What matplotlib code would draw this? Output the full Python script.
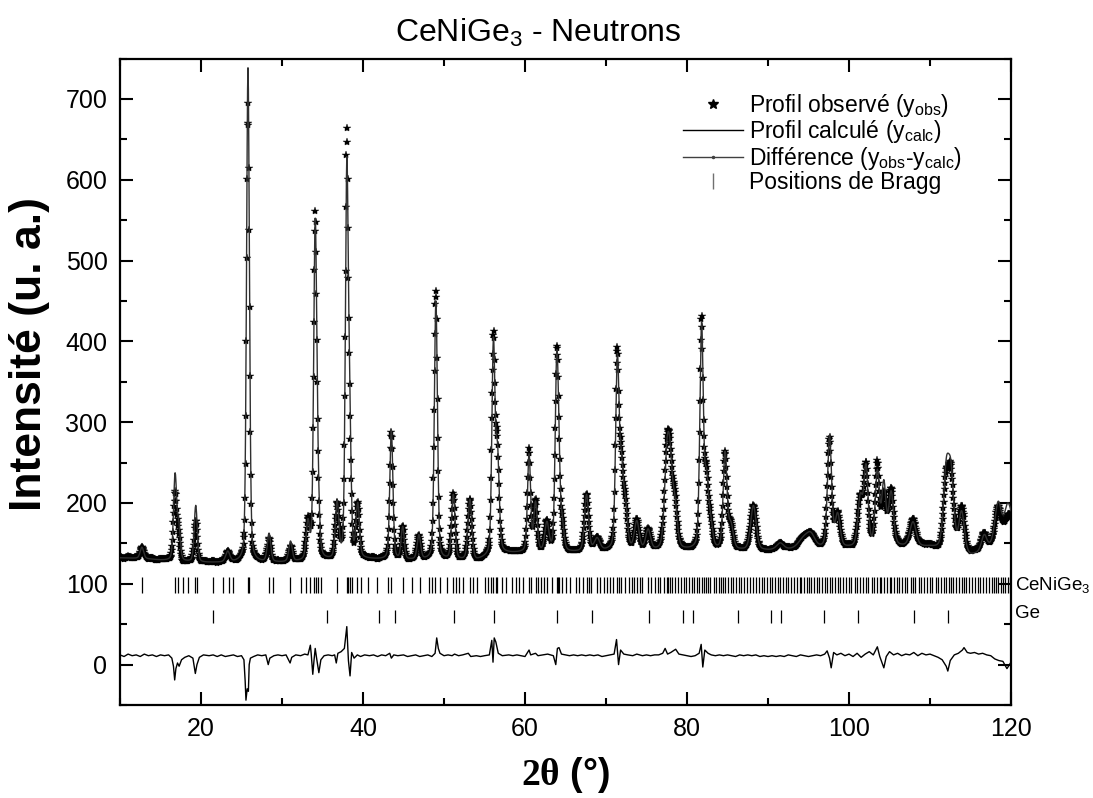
import numpy as np
import matplotlib
matplotlib.use('Agg')
import matplotlib.pyplot as plt
from matplotlib.lines import Line2D

plt.rcParams['font.family'] = ['Liberation Sans', 'DejaVu Sans']
plt.rcParams['mathtext.fontset'] = 'custom'
plt.rcParams['mathtext.rm'] = 'Liberation Sans'
plt.rcParams['mathtext.it'] = 'Liberation Sans:italic'
plt.rcParams['mathtext.bf'] = 'Liberation Serif:bold'
plt.rcParams['mathtext.default'] = 'regular'

# ---------------- data ----------------
two_theta_min, two_theta_max, two_theta_step = 10.0, 120.0, 0.05

# background of the calculated profile (2theta, intensity)
bg_x = [10, 13, 15, 18, 20, 22, 25, 28, 30, 33, 36, 40, 45, 50, 54, 57, 60, 65, 70, 75, 80, 85, 90, 95, 100, 105, 110, 115, 117, 120]
bg_y = [132, 131, 129, 127, 126, 126, 126, 126, 126, 127, 128, 130, 129, 129, 128, 137, 138, 138, 140, 140, 141, 141, 141, 143, 144, 146, 145, 134, 140, 172]

# reflections of the calculated profile: position, height above background, FWHM
peak_pos = [12.7, 16.8, 17.25, 19.35, 23.3, 25.8, 28.4, 31.05, 33.2, 34.1, 34.45, 36.8, 38.0, 38.35, 39.35,
            43.5, 44.9, 46.9, 49.0, 51.15, 53.2, 56.1, 56.6, 60.5, 61.3, 62.7, 63.9, 64.15, 64.6, 67.6, 68.9,
            71.4, 71.9, 72.4, 73.8, 75.2, 77.5, 77.9, 78.5, 81.8, 82.4, 82.9, 84.7, 85.4, 88.2, 91.5, 94.4,
            95.3, 97.6, 98.6, 101.4, 102.1, 103.5, 104.3, 105.2, 107.9, 112.0, 112.6, 113.9, 116.7, 118.4, 119.6]
peak_amp = [14, 105, 40, 70, 13, 612, 35, 25, 45, 410, 60, 68, 470, 150, 65,
            160, 40, 30, 320, 80, 75, 258, 120, 120, 60, 35, 205, 90, 30, 70, 15,
            230, 90, 50, 35, 25, 95, 88, 50, 275, 80, 30, 118, 30, 55, 8, 12,
            15, 138, 40, 60, 95, 90, 75, 65, 30, 92, 88, 50, 20, 45, 30]
peak_fwhm = [0.5, 0.45, 0.45, 0.45, 0.6, 0.42, 0.5, 0.5, 0.5, 0.45, 0.45, 0.5, 0.42, 0.42, 0.5,
             0.45, 0.45, 0.5, 0.45, 0.5, 0.55, 0.45, 0.5, 0.45, 0.5, 0.6, 0.45, 0.45, 0.5, 0.6, 0.8,
             0.5, 0.55, 0.6, 0.7, 0.7, 0.7, 0.7, 0.7, 0.5, 0.55, 0.6, 0.55, 0.7, 0.8, 1.0, 1.5,
             1.2, 0.6, 0.7, 0.7, 0.6, 0.6, 0.6, 0.7, 0.9, 0.8, 0.8, 0.8, 0.8, 0.9, 0.9]
peak_eta = 0.3

# difference curve (yobs - ycalc, plotted with an offset)
diff_offset = 11
diff_x = [10.0, 10.5, 11, 11.5, 12, 12.5, 13, 13.5, 14, 14.5, 15, 15.5, 16.0, 16.4, 16.6, 16.75, 16.9, 17.1, 17.3, 17.6,
          18.0, 18.5, 19.0, 19.3, 19.5, 19.8, 20.3, 21, 21.5, 22, 22.5, 23, 23.5, 24, 24.5, 25.0, 25.3, 25.45, 25.55, 25.7,
          25.85, 25.95, 26.1, 26.5, 27, 27.5, 28.0, 28.3, 28.5, 29, 29.5, 30, 30.5, 31.0, 31.2, 31.7, 32.3, 32.8, 33.2, 33.5,
          33.6, 33.8, 33.95, 34.1, 34.3, 34.55, 34.8, 35.2, 35.7, 36.2, 36.5, 36.7, 36.9, 37.3, 37.7, 38.0, 38.2, 38.4, 38.6, 38.9,
          39.3, 39.7, 40.2, 40.8, 41.3, 41.8, 42.3, 42.8, 43.3, 43.5, 43.8, 44.3, 45, 45.5, 46, 46.5, 47, 47.5, 48, 48.5,
          48.9, 49.1, 49.3, 49.5, 50, 50.5, 51, 51.3, 51.8, 52.3, 53.0, 53.3, 54, 54.5, 55, 55.6, 55.9, 56.05, 56.2, 56.4,
          56.7, 57.2, 58, 58.5, 59, 59.5, 60, 60.5, 60.7, 61.3, 61.6, 62.2, 62.8, 63.5, 63.8, 64.0, 64.2, 64.5, 65, 65.5,
          66, 66.5, 67, 67.5, 68, 68.5, 69, 69.5, 70, 70.5, 71.0, 71.3, 71.55, 71.8, 72.2, 72.7, 73.3, 73.8, 74.5, 75,
          75.5, 76, 76.5, 77.0, 77.3, 77.6, 78.0, 78.6, 79, 79.5, 80, 80.5, 81.0, 81.5, 81.75, 81.95, 82.2, 82.6, 83, 83.5,
          84, 84.5, 85, 85.5, 86, 86.5, 87, 87.5, 88, 88.5, 89, 89.5, 90, 90.5, 91, 91.5, 92, 92.5, 93, 93.5,
          94, 94.5, 95, 95.5, 96, 96.5, 97.0, 97.3, 97.6, 97.8, 98.1, 98.5, 99, 99.5, 100, 100.5, 101.0, 101.5, 102, 102.5,
          103, 103.5, 103.8, 104.3, 104.6, 105, 105.5, 106, 106.5, 107, 107.5, 108, 108.5, 109, 109.5, 110, 110.5, 111, 111.5, 112,
          112.2, 112.5, 113, 113.5, 114.0, 114.2, 114.6, 115, 115.5, 116, 116.5, 117, 117.5, 118, 118.5, 119, 119.5, 120]
diff_y = [12, 10, 13, 11, 12, 10, 13, 11, 12, 10, 12, 11, 12, 8, -2, -19, -5, 2, -2, 6,
          9, 11, 8, -11, 0, 9, 12, 11, 12, 10, 12, 10, 11, 12, 10, 11, 6, -20, -44, -30,
          -33, 0, 8, 10, 12, 11, 12, 0, 8, 11, 12, 11, 12, 2, 9, 12, 11, 13, 12, 24,
          14, -12, 5, 20, 6, -10, 6, 11, 12, 11, 12, 2, 14, 16, 20, 47, 5, -14, 15, 8,
          12, 10, 12, 11, 12, 10, 12, 11, 14, 8, 12, 11, 12, 10, 11, 12, 10, 11, 12, 10,
          14, 33, 20, 14, 11, 12, 11, 13, 11, 12, 14, 10, 11, 10, 11, 12, 30, 3, 33, 28,
          14, 11, 12, 11, 12, 11, 10, 18, 12, 14, 11, 12, 13, 11, 0, 20, 21, 13, 12, 11,
          12, 11, 12, 11, 12, 11, 12, 10, 11, 12, 13, 31, 0, 18, 13, 12, 11, 13, 11, 12,
          11, 12, 12, 14, 20, 13, 15, 19, 13, 12, 11, 10, 11, 14, 25, -3, 18, 14, 12, 11,
          12, 11, 12, 11, 10, 12, 11, 12, 11, 12, 10, 11, 10, 11, 10, 11, 10, 12, 11, 10,
          12, 11, 10, 11, 12, 11, 13, 17, 8, -4, 15, 12, 14, 11, 13, 10, 14, 9, 13, 16,
          12, 22, 10, -4, 10, 16, 12, 14, 11, 13, 12, 15, 11, 14, 12, 13, 11, 9, 6, -2,
          -8, 5, 12, 14, 18, 21, 15, 14, 15, 13, 14, 12, 11, 7, 5, 4, -5, 3]

# Bragg positions
bragg_cenige3 = [12.7, 16.8, 17.2, 17.8, 18.4, 19.3, 19.55, 21.5, 22.7, 23.4, 24.0, 25.8, 25.9, 28.4, 28.9, 31.0,
                 32.4, 33.0, 33.5, 33.9, 34.2, 34.5, 34.8, 36.75, 38.0, 38.2, 38.4, 38.7, 39.2, 39.7, 40.6, 41.7,
                 43.1, 43.5, 44.9, 46.0, 47.0, 48.1, 48.5, 48.9, 49.5,
                 50.4, 51.1, 51.5, 51.9, 52.4, 53.2, 53.6, 54.1, 55.0, 55.4, 55.8, 56.1, 56.4, 56.6, 57.1, 57.6,
                 58.4, 58.9, 59.3, 59.8,
                 60.5, 60.8, 61.3, 61.6, 62.0, 62.4, 62.7, 63.3, 63.9, 64.1, 64.2, 64.6, 65.1, 65.5, 66.3, 66.7,
                 67.1, 67.6, 67.9, 68.2, 68.9, 69.3, 69.7,
                 70.1, 70.5, 70.9, 71.4, 71.6, 71.9, 72.4, 72.8, 73.2, 73.5, 73.8, 74.2, 74.5, 75.2, 75.6, 76.0,
                 76.4, 76.7, 77.1, 77.5, 77.7, 77.9, 78.2, 78.5, 78.9, 79.2, 79.6, 79.9,
                 80.3, 80.6, 80.9, 81.2, 81.5, 81.8, 82.1, 82.4, 82.6, 82.9, 83.3, 83.6, 83.9, 84.2, 84.5, 84.7,
                 85.0, 85.4, 85.7, 86.0, 86.4, 86.7, 87.0, 87.4, 87.8, 88.2, 88.5, 88.9, 89.2, 89.5, 89.9,
                 90.2, 90.5, 90.9, 91.2, 91.5, 91.9, 92.2, 92.5, 92.9, 93.2, 93.6, 93.9, 94.1, 94.4, 94.8, 95.1,
                 95.3, 95.7, 96.0, 96.3, 96.7, 97.0, 97.3, 97.6, 97.9, 98.3, 98.6, 98.9, 99.3, 99.6, 100.0,
                 100.3, 100.7, 101.0, 101.4, 101.7, 102.1, 102.4, 102.8, 103.1, 103.5, 103.8, 104.0, 104.3, 104.7,
                 105.0, 105.2, 105.6, 105.9, 106.2, 106.6, 106.9, 107.2, 107.6, 107.9, 108.2, 108.6, 108.9, 109.3,
                 109.6, 110.0, 110.3, 110.7, 111.0, 111.4, 111.7, 112.0, 112.3, 112.6, 112.9, 113.2, 113.6, 113.9,
                 114.2, 114.5, 114.8, 115.2, 115.5, 115.9, 116.2, 116.5, 116.9, 117.3, 117.6, 117.9, 118.2, 118.4,
                 118.8, 119.0, 119.3, 119.6, 119.9]
bragg_ge = [21.5, 35.6, 42.0, 43.9, 51.2, 56.2, 63.95, 68.3, 75.3, 79.5, 80.8, 86.3, 90.35, 91.6, 96.95, 101.1, 108.05, 112.25]

# ---------------- profile construction ----------------
x = np.arange(two_theta_min, two_theta_max + two_theta_step / 2, two_theta_step)
ycalc = np.interp(x, bg_x, bg_y).astype(float)
for p, a, w in zip(peak_pos, peak_amp, peak_fwhm):
    u = (x - p) / w
    g = np.exp(-4 * np.log(2) * u ** 2)
    lor = 1.0 / (1 + 4 * u ** 2)
    ycalc += a * (peak_eta * lor + (1 - peak_eta) * g)
yobs = ycalc + np.interp(x, diff_x, diff_y) - diff_offset

# ---------------- figure ----------------
W, H = 1093, 798
fig = plt.figure(figsize=(W / 100, H / 100), dpi=100)
ax = fig.add_axes([120 / W, 1 - 705 / H, (1011 - 120) / W, (705 - 58.5) / H])

ax.plot(x, yobs, ls='none', marker='*', ms=6, color='black', mew=0.3, zorder=3)
ax.plot(x, ycalc, color='#303030', lw=1.0, zorder=4)
ax.plot(diff_x, diff_y, color='black', lw=1.0, zorder=4)
ax.vlines(bragg_cenige3, 89, 109, color='black', lw=0.9)
ax.vlines(bragg_ge, 51, 68, color='black', lw=0.9)

ax.set_xlim(two_theta_min, two_theta_max)
ax.set_ylim(-50, 750)
ax.set_xticks(np.arange(20, 121, 20))
ax.set_xticks(np.arange(10, 121, 10), minor=True)
ax.set_yticks(np.arange(0, 701, 100))
ax.set_yticks(np.arange(-50, 751, 50), minor=True)
ax.tick_params(which='both', direction='in', top=True, right=True, width=1.5, labelsize=18)
ax.tick_params(which='major', length=9.5)
ax.tick_params(which='minor', length=5)
ax.tick_params(axis='x', pad=9)
ax.tick_params(axis='y', pad=9)
for s in ax.spines.values():
    s.set_linewidth(1.6)

ax.set_title('CeNiGe$_3$ - Neutrons', fontsize=23, pad=12, x=(538 - 120) / 891)
ax.set_ylabel('Intensité (u. a.)', fontsize=32, fontweight='bold')
ax.yaxis.set_label_coords((50 - 120) / 891, (705 - 354) / 646.5)
ax.set_xlabel(r'$\mathbf{2θ}$ (°)', fontsize=27, fontweight='bold')
ax.xaxis.set_label_coords(0.5, (705 - 755) / 646.5)

ax.text(1.005, (99 + 50) / 800, 'CeNiGe$_3$', transform=ax.transAxes, fontsize=13.5, va='center', ha='left', clip_on=False)
ax.text(1.005, (63 + 50) / 800, 'Ge', transform=ax.transAxes, fontsize=13.5, va='center', ha='left', clip_on=False)

handles = [
    Line2D([], [], ls='none', marker='*', ms=7, color='black'),
    Line2D([], [], color='black', lw=1.0),
    Line2D([0, 0.5, 1], [0, 0, 0], color='#404040', lw=1.0, marker='.', ms=3, markevery=[1]),
    Line2D([], [], ls='none', marker='|', ms=12, color='#707070'),
]
labels = ['Profil observé (y$_{obs}$)', 'Profil calculé (y$_{calc}$)',
          'Différence (y$_{obs}$-y$_{calc}$)', 'Positions de Bragg']
leg = ax.legend(handles, labels, loc='upper left', bbox_to_anchor=((683 - 120) / 891, (705 - 92) / 646.5),
                frameon=False, fontsize=16.5, handlelength=2.6, handletextpad=0.3, labelspacing=-0.03,
                borderpad=0, borderaxespad=0)

fig.savefig('out.png', dpi=100)
